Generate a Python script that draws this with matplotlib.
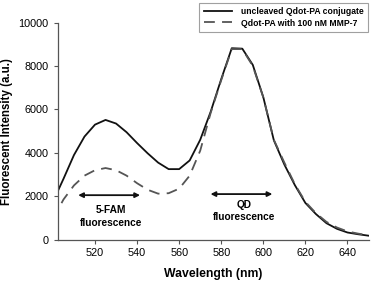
import numpy as np
import matplotlib
matplotlib.use("Agg")
import matplotlib.pyplot as plt

plt.rcParams['font.family'] = ['Liberation Sans', 'DejaVu Sans']

# emission spectra (every 5 nm)
wavelength = [500, 505, 510, 515, 520, 525, 530, 535, 540, 545, 550, 555, 560,
              565, 570, 575, 580, 585, 590, 595, 600, 605, 610, 615, 620, 625,
              630, 635, 640, 645, 650]
uncleaved = [1750, 2800, 3900, 4750, 5300, 5516, 5350, 4950, 4450, 3980, 3550,
             3250, 3250, 3650, 4600, 5900, 7400, 8820, 8800, 8050, 6560, 4580,
             3460, 2510, 1690, 1180, 760, 500, 330, 250, 184]
cleaved = [950, 1850, 2500, 2950, 3200, 3300, 3200, 2950, 2600, 2300, 2120,
           2140, 2350, 2950, 4100, 5850, 7350, 8780, 8780, 8000, 6550, 4600,
           3550, 2550, 1740, 1220, 820, 560, 380, 280, 200]

series_labels = ['uncleaved Qdot-PA conjugate', 'Qdot-PA with 100 nM MMP-7']
xticks = [520, 540, 560, 580, 600, 620, 640]
yticks = [0, 2000, 4000, 6000, 8000, 10000]

fig = plt.figure(figsize=(3.79, 2.86), dpi=100)
ax = fig.add_axes([0.153, 0.162, 0.821, 0.759])

ax.plot(wavelength, uncleaved, color='#111111', lw=1.3, label=series_labels[0])
ax.plot(wavelength, cleaved, color='#555555', lw=1.3, dashes=(6, 4),
        label=series_labels[1])

ax.set_xlim(502.4, 650.3)
ax.set_ylim(0, 10000)
ax.set_xticks(xticks)
ax.set_yticks(yticks)
ax.tick_params(labelsize=7.8, length=3, width=0.8, color='#555555')
ax.tick_params(axis='x', pad=3)
ax.tick_params(axis='y', pad=4)
for s in ['top', 'right']:
    ax.spines[s].set_visible(False)
for s in ['left', 'bottom']:
    ax.spines[s].set_color('#555555')
    ax.spines[s].set_linewidth(0.9)

ax.set_xlabel('Wavelength (nm)', fontsize=8.8, fontweight='bold', labelpad=7)
ax.set_ylabel('Fluorescent Intensity (a.u.)', fontsize=8.3, fontweight='bold',
              labelpad=4)

# annotation arrows
arrow = dict(arrowstyle='<|-|>', color='#111111', lw=1.3,
             mutation_scale=7, shrinkA=0, shrinkB=0)
ax.annotate('', xy=(512, 2050), xytext=(541.4, 2050), arrowprops=arrow)
ax.text(527.6, 1360, '5-FAM', ha='center', va='center', fontsize=7.3,
        fontweight='bold')
ax.text(527.6, 770, 'fluorescence', ha='center', va='center', fontsize=7.3,
        fontweight='bold')
ax.annotate('', xy=(574.9, 2100), xytext=(604.3, 2100), arrowprops=arrow)
ax.text(590.7, 1585, 'QD', ha='center', va='center', fontsize=7.3,
        fontweight='bold')
ax.text(590.7, 1046, 'fluorescence', ha='center', va='center', fontsize=7.3,
        fontweight='bold')

leg = ax.legend(loc='upper right', bbox_to_anchor=(0.995, 1.092), fontsize=6.2,
                frameon=True, fancybox=False, handlelength=3.3,
                borderpad=0.5, labelspacing=0.3, handletextpad=1.0,
                borderaxespad=0.0)
leg.get_frame().set_edgecolor('#888888')
leg.get_frame().set_linewidth(0.8)
for t in leg.get_texts():
    t.set_fontweight('bold')

fig.savefig('out.png', dpi=100)
